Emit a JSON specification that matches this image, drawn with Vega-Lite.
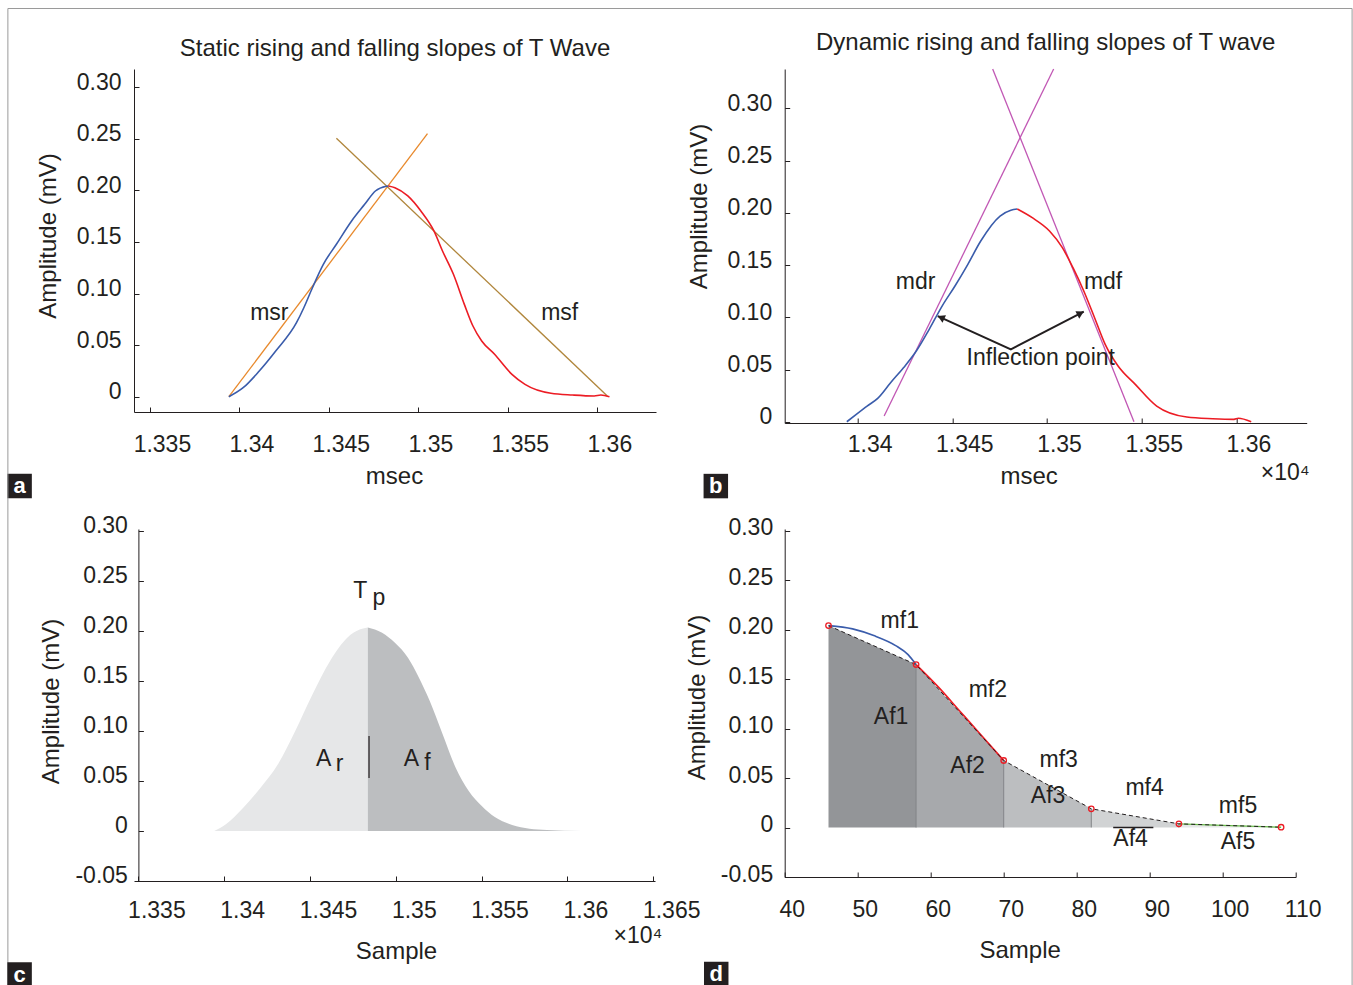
{
  "$schema": "https://vega.github.io/schema/vega-lite/v6.json",
  "background": "white",
  "padding": {"left": 7, "top": 7, "right": 1, "bottom": 0},
  "config": {
    "font": "Liberation Sans",
    "view": {"stroke": null},
    "axis": {
      "grid": false, "domainColor": "#231f20", "tickColor": "#231f20", "labelColor": "#231f20", "titleColor": "#231f20",
      "labelFont": "Liberation Sans", "titleFont": "Liberation Sans", "labelFontSize": 23, "titleFontSize": 24, "titleFontWeight": "normal",
      "tickSize": -5, "domainWidth": 1, "tickWidth": 1, "labelFlush": false, "labelOverlap": false, "labelBound": false
    },
    "title": {"fontSize": 24, "fontWeight": "normal", "color": "#231f20", "frame": "group", "anchor": "middle", "font": "Liberation Sans"},
    "text": {"fontSize": 23, "color": "#231f20", "align": "center", "baseline": "middle"}
  },
  "resolve": {"scale": {"color": "independent"}},
  "datasets": {
    "a_rise": [{"x":1.33941,"y":0},{"x":1.34021,"y":0.0087},{"x":1.34111,"y":0.0249},{"x":1.34203,"y":0.0443},{"x":1.34319,"y":0.0717},{"x":1.34360,"y":0.0862},{"x":1.34408,"y":0.1056},{"x":1.34469,"y":0.1283},{"x":1.34542,"y":0.1477},{"x":1.34627,"y":0.1703},{"x":1.34700,"y":0.1864},{"x":1.34760,"y":0.1993},{"x":1.34821,"y":0.2039},{"x":1.34833,"y":0.2042}],
    "a_fall": [{"x":1.34833,"y":0.2042},{"x":1.34869,"y":0.2025},{"x":1.34941,"y":0.1945},{"x":1.35014,"y":0.1799},{"x":1.35087,"y":0.1606},{"x":1.35135,"y":0.1412},{"x":1.35196,"y":0.1186},{"x":1.35257,"y":0.0895},{"x":1.35305,"y":0.0685},{"x":1.35354,"y":0.0540},{"x":1.35426,"y":0.0411},{"x":1.35523,"y":0.0217},{"x":1.35596,"y":0.0120},{"x":1.35741,"y":0.0033},{"x":1.35862,"y":0.0016},{"x":1.35983,"y":0.0007},{"x":1.36020,"y":0.0016},{"x":1.36068,"y":0}],
    "a_tan_r": [{"x":1.33941,"y":0},{"x":1.35051,"y":0.2549}],
    "a_tan_f": [{"x":1.34542,"y":0.2504},{"x":1.36056,"y":0.0007}],
    "a_text": [{"x":1.34167,"y":0.0808,"label":"msr"},{"x":1.35790,"y":0.0808,"label":"msf"}],
    "a_box": [{"x":1.327717,"y":-0.0865,"label":"a"}],
    "b_rise": [{"x":1.33943,"y":0},{"x":1.33993,"y":0.0071},{"x":1.34050,"y":0.0150},{"x":1.34106,"y":0.0224},{"x":1.34174,"y":0.0374},{"x":1.34242,"y":0.0517},{"x":1.34310,"y":0.0677},{"x":1.34378,"y":0.0885},{"x":1.34446,"y":0.1108},{"x":1.34514,"y":0.1300},{"x":1.34582,"y":0.1508},{"x":1.34650,"y":0.1731},{"x":1.34752,"y":0.1970},{"x":1.34809,"y":0.2025},{"x":1.34843,"y":0.2037}],
    "b_fall": [{"x":1.34843,"y":0.2037},{"x":1.34922,"y":0.1954},{"x":1.35013,"y":0.1827},{"x":1.35081,"y":0.1667},{"x":1.35137,"y":0.1475},{"x":1.35194,"y":0.1252},{"x":1.35251,"y":0.0996},{"x":1.35307,"y":0.0741},{"x":1.35375,"y":0.0534},{"x":1.35466,"y":0.0358},{"x":1.35579,"y":0.0150},{"x":1.35738,"y":0.0045},{"x":1.35874,"y":0.0029},{"x":1.35987,"y":0.0023},{"x":1.36010,"y":0.0033},{"x":1.36078,"y":0}],
    "b_tan_r": [{"x":1.34140,"y":0.0055},{"x":1.35035,"y":0.3378}],
    "b_tan_f": [{"x":1.34713,"y":0.3378},{"x":1.35459,"y":0}],
    "b_arrow": [{"x":1.34423,"y":0.1012},{"x":1.34809,"y":0.0693},{"x":1.35194,"y":0.1054}],
    "b_head_l": [{"x":1.34440,"y":0.0998}],
    "b_head_r": [{"x":1.35177,"y":0.1039}],
    "b_text": [{"x":1.34306,"y":0.1338,"label":"mdr"},{"x":1.35296,"y":0.1338,"label":"mdf"},{"x":1.34967,"y":0.0607,"label":"Inflection point"}],
    "b_exp": [{"x":1.36258,"y":-0.0489,"label":"×10⁴"}],
    "b_box": [{"x":1.332513,"y":-0.0616,"label":"b"}],
    "c_area": [
      {"x":1.33942,"y":0,"part":"rise"},{"x":1.34010,"y":0.0067,"part":"rise"},{"x":1.34111,"y":0.0233,"part":"rise"},{"x":1.34212,"y":0.0433,"part":"rise"},{"x":1.34313,"y":0.0667,"part":"rise"},{"x":1.34414,"y":0.100,"part":"rise"},{"x":1.34515,"y":0.1367,"part":"rise"},{"x":1.34617,"y":0.170,"part":"rise"},{"x":1.34717,"y":0.1933,"part":"rise"},{"x":1.34793,"y":0.2017,"part":"rise"},{"x":1.34837,"y":0.2035,"part":"rise"},
      {"x":1.34837,"y":0.2035,"part":"fall"},{"x":1.34920,"y":0.1983,"part":"fall"},{"x":1.34995,"y":0.1883,"part":"fall"},{"x":1.35071,"y":0.1733,"part":"fall"},{"x":1.35135,"y":0.1533,"part":"fall"},{"x":1.35198,"y":0.130,"part":"fall"},{"x":1.35273,"y":0.0967,"part":"fall"},{"x":1.35349,"y":0.0633,"part":"fall"},{"x":1.35425,"y":0.040,"part":"fall"},{"x":1.35501,"y":0.025,"part":"fall"},{"x":1.35577,"y":0.014,"part":"fall"},{"x":1.35678,"y":0.006,"part":"fall"},{"x":1.35779,"y":0.0023,"part":"fall"},{"x":1.35880,"y":0.001,"part":"fall"},{"x":1.36082,"y":0,"part":"fall"}
    ],
    "c_mark": [{"x":1.34844,"y":0.053,"y2":0.095}],
    "c_text": [{"x":1.34793,"y":0.240,"label":"T"},{"x":1.34902,"y":0.2333,"label":"p"},{"x":1.34579,"y":0.0717,"label":"A"},{"x":1.34672,"y":0.0667,"label":"r"},{"x":1.35091,"y":0.0717,"label":"A"},{"x":1.35185,"y":0.0683,"label":"f"}],
    "c_exp": [{"x":1.36411,"y":-0.105,"label":"×10⁴"}],
    "c_box": [{"x":1.328077,"y":-0.1435,"label":"c"}],
    "c_frame": [{"x":1.327395,"x2":1.405728,"y":0.8225,"y2":-0.162}],
    "d_area": [
      {"x":46,"y":0.204,"seg":"1"},{"x":58,"y":0.1646,"seg":"1"},
      {"x":58,"y":0.1646,"seg":"2"},{"x":70,"y":0.0677,"seg":"2"},
      {"x":70,"y":0.0677,"seg":"3"},{"x":82,"y":0.0189,"seg":"3"},
      {"x":82,"y":0.0189,"seg":"4"},{"x":94,"y":0.0037,"seg":"4"},
      {"x":94,"y":0.0037,"seg":"5"},{"x":108,"y":0.0003,"seg":"5"}
    ],
    "d_pts": [{"x":46,"y":0.204},{"x":58,"y":0.1646},{"x":70,"y":0.0677},{"x":82,"y":0.0189},{"x":94,"y":0.0037},{"x":108,"y":0.0003}],
    "d_sep": [{"x":58,"y":0.1646},{"x":70,"y":0.0677},{"x":82,"y":0.0189},{"x":94,"y":0.0037}],
    "d_blue": [{"x":46.05,"y":0.204},{"x":49.3,"y":0.2007},{"x":52.2,"y":0.1939},{"x":55.2,"y":0.1838},{"x":56.9,"y":0.1747},{"x":58.0,"y":0.1646}],
    "d_red": [{"x":58,"y":0.1646},{"x":61.06,"y":0.1418},{"x":64,"y":0.1175},{"x":66.9,"y":0.0935},{"x":70,"y":0.0677}],
    "d_green": [{"x":94,"y":0.0037},{"x":100,"y":0.0022},{"x":108,"y":0.0003}],
    "d_black": [{"x":85,"x2":90.5,"y":0}],
    "d_text": [{"x":55.76,"y":0.2091,"label":"mf1"},{"x":67.83,"y":0.1394,"label":"mf2"},{"x":77.54,"y":0.0684,"label":"mf3"},{"x":89.3,"y":0.0401,"label":"mf4"},{"x":102.1,"y":0.0222,"label":"mf5"},{"x":54.58,"y":0.1114,"label":"Af1"},{"x":65.06,"y":0.0626,"label":"Af2"},{"x":76.08,"y":0.0323,"label":"Af3"},{"x":87.38,"y":-0.0114,"label":"Af4"},{"x":102.1,"y":-0.0148,"label":"Af5"}],
    "d_box": [{"x":30.62,"y":-0.148,"label":"d"}]
  },
  "columns": 2,
  "bounds": "flush",
  "spacing": {"row": 106, "column": 128.7},
  "concat": [
    {
      "width": 522, "height": 343,
      "title": {"text": "Static rising and falling slopes of T Wave", "offset": 8},
      "encoding": {
        "x": {"field": "x", "type": "quantitative", "scale": {"domain": [1.33411, 1.36328], "nice": false, "zero": false},
              "axis": {"title": "msec", "values": [1.335, 1.34, 1.345, 1.35, 1.355, 1.36], "format": "~g", "labelOffset": 12, "labelBaseline": "middle", "labelPadding": 37, "titleX": 260, "titleY": 64, "titleBaseline": "middle"}},
        "y": {"field": "y", "type": "quantitative", "stack": null, "scale": {"domain": [-0.0148, 0.3175], "nice": false, "zero": false},
              "axis": {"title": "Amplitude (mV)", "values": [0, 0.05, 0.1, 0.15, 0.2, 0.25, 0.3], "labelExpr": "datum.value == 0 ? '0' : (datum.value < 0 ? '-' + format(-datum.value, '.2f') : format(datum.value, '.2f'))", "labelPadding": 18, "labelOffset": -5, "titleX": -86, "titleY": 166.5, "titleBaseline": "middle"}}
      },
      "layer": [
        {"data": {"name": "a_tan_r"}, "mark": {"type": "line", "color": "#e8892c", "strokeWidth": 1.3}},
        {"data": {"name": "a_tan_f"}, "mark": {"type": "line", "color": "#b0863c", "strokeWidth": 1.3}},
        {"data": {"name": "a_rise"}, "mark": {"type": "line", "color": "#3a5cab", "strokeWidth": 1.6, "interpolate": "monotone"}},
        {"data": {"name": "a_fall"}, "mark": {"type": "line", "color": "#ec1c24", "strokeWidth": 1.6, "interpolate": "monotone"}},
        {"data": {"name": "a_text"}, "mark": {"type": "text"}, "encoding": {"text": {"field": "label"}}},
        {"data": {"name": "a_box"}, "mark": {"type": "point", "shape": "square", "filled": true, "size": 600, "color": "#231f20", "opacity": 1}},
        {"data": {"name": "a_box"}, "mark": {"type": "text", "color": "#ffffff", "fontWeight": "bold", "fontSize": 22}, "encoding": {"text": {"field": "label"}}}
      ]
    },
    {
      "width": 522, "height": 354,
      "title": {"text": "Dynamic rising and falling slopes of T wave", "offset": 11},
      "encoding": {
        "x": {"field": "x", "type": "quantitative", "scale": {"domain": [1.33615, 1.36371], "nice": false, "zero": false},
              "axis": {"title": "msec", "values": [1.34, 1.345, 1.35, 1.355, 1.36], "format": "~g", "labelOffset": 12, "labelBaseline": "middle", "labelPadding": 26, "titleX": 244, "titleY": 53, "titleBaseline": "middle"}},
        "y": {"field": "y", "type": "quantitative", "stack": null, "scale": {"domain": [-0.0012, 0.3378], "nice": false, "zero": false},
              "axis": {"title": "Amplitude (mV)", "values": [0, 0.05, 0.1, 0.15, 0.2, 0.25, 0.3], "labelExpr": "datum.value == 0 ? '0' : (datum.value < 0 ? '-' + format(-datum.value, '.2f') : format(datum.value, '.2f'))", "labelPadding": 18, "labelOffset": -5, "titleX": -85, "titleY": 137, "titleBaseline": "middle"}}
      },
      "layer": [
        {"data": {"name": "b_tan_r"}, "mark": {"type": "line", "color": "#c157b4", "strokeWidth": 1.3}},
        {"data": {"name": "b_tan_f"}, "mark": {"type": "line", "color": "#c157b4", "strokeWidth": 1.3}},
        {"data": {"name": "b_rise"}, "mark": {"type": "line", "color": "#3a5cab", "strokeWidth": 1.6, "interpolate": "monotone"}},
        {"data": {"name": "b_fall"}, "mark": {"type": "line", "color": "#ec1c24", "strokeWidth": 1.6, "interpolate": "monotone"}},
        {"data": {"name": "b_arrow"}, "mark": {"type": "line", "color": "#231f20", "strokeWidth": 2}},
        {"data": {"name": "b_head_l"}, "mark": {"type": "point", "shape": "triangle-up", "filled": true, "size": 70, "angle": 294.6, "color": "#231f20", "opacity": 1}},
        {"data": {"name": "b_head_r"}, "mark": {"type": "point", "shape": "triangle-up", "filled": true, "size": 70, "angle": 62.7, "color": "#231f20", "opacity": 1}},
        {"data": {"name": "b_text"}, "mark": {"type": "text"}, "encoding": {"text": {"field": "label"}}},
        {"data": {"name": "b_exp"}, "mark": {"type": "text"}, "encoding": {"text": {"field": "label"}}},
        {"data": {"name": "b_box"}, "mark": {"type": "point", "shape": "square", "filled": true, "size": 600, "color": "#231f20", "opacity": 1}},
        {"data": {"name": "b_box"}, "mark": {"type": "text", "color": "#ffffff", "fontWeight": "bold", "fontSize": 22}, "encoding": {"text": {"field": "label"}}}
      ]
    },
    {
      "width": 521, "height": 352,
      "encoding": {
        "x": {"field": "x", "type": "quantitative", "scale": {"domain": [1.334744, 1.365105], "nice": false, "zero": false},
              "axis": {"title": "Sample", "values": [1.335, 1.34, 1.345, 1.35, 1.355, 1.36, 1.365], "format": "~g", "labelOffset": 18, "labelBaseline": "middle", "labelPadding": 34, "titleX": 262, "titleY": 70, "titleBaseline": "middle"}},
        "y": {"field": "y", "type": "quantitative", "stack": null, "scale": {"domain": [-0.05, 0.302], "nice": false, "zero": false},
              "axis": {"title": "Amplitude (mV)", "offset": -4.4, "values": [-0.05, 0, 0.05, 0.1, 0.15, 0.2, 0.25, 0.3], "labelExpr": "datum.value == 0 ? '0' : (datum.value < 0 ? '-' + format(-datum.value, '.2f') : format(datum.value, '.2f'))", "labelPadding": 16, "labelOffset": -6, "titleX": -87, "titleY": 172, "titleBaseline": "middle"}}
      },
      "layer": [
        {"data": {"name": "c_frame"}, "mark": {"type": "rect", "filled": false, "stroke": "#9a9a9a", "strokeWidth": 1}, "encoding": {"x2": {"field": "x2"}, "y2": {"field": "y2"}}},
        {"data": {"name": "c_area"}, "mark": {"type": "area", "opacity": 1, "interpolate": "monotone"},
         "encoding": {"color": {"field": "part", "type": "nominal", "scale": {"domain": ["rise", "fall"], "range": ["#e6e7e8", "#bcbec0"]}, "legend": null}}},
        {"data": {"name": "c_mark"}, "mark": {"type": "rule", "color": "#231f20", "strokeWidth": 1.2}, "encoding": {"y2": {"field": "y2"}}},
        {"data": {"name": "c_text"}, "mark": {"type": "text"}, "encoding": {"text": {"field": "label"}}},
        {"data": {"name": "c_exp"}, "mark": {"type": "text"}, "encoding": {"text": {"field": "label"}}},
        {"data": {"name": "c_box"}, "mark": {"type": "point", "shape": "square", "filled": true, "size": 600, "color": "#231f20", "opacity": 1}},
        {"data": {"name": "c_box"}, "mark": {"type": "text", "color": "#ffffff", "fontWeight": "bold", "fontSize": 22}, "encoding": {"text": {"field": "label"}}}
      ]
    },
    {
      "width": 511, "height": 348,
      "encoding": {
        "x": {"field": "x", "type": "quantitative", "scale": {"domain": [40, 110], "nice": false, "zero": false},
              "axis": {"title": "Sample", "values": [40, 50, 60, 70, 80, 90, 100, 110], "labelOffset": 7, "labelBaseline": "middle", "labelPadding": 37, "titleX": 235, "titleY": 73, "titleBaseline": "middle"}},
        "y": {"field": "y", "type": "quantitative", "stack": null, "scale": {"domain": [-0.05, 0.3016], "nice": false, "zero": false},
              "axis": {"title": "Amplitude (mV)", "values": [-0.05, 0, 0.05, 0.1, 0.15, 0.2, 0.25, 0.3], "labelExpr": "datum.value == 0 ? '0' : (datum.value < 0 ? '-' + format(-datum.value, '.2f') : format(datum.value, '.2f'))", "labelPadding": 17, "labelOffset": -3, "titleX": -87, "titleY": 168, "titleBaseline": "middle"}}
      },
      "layer": [
        {"data": {"name": "d_area"}, "mark": {"type": "area", "opacity": 1},
         "encoding": {"color": {"field": "seg", "type": "nominal", "scale": {"domain": ["1", "2", "3", "4", "5"], "range": ["#939598", "#a7a9ac", "#bcbec0", "#d1d3d4", "#e6e7e8"]}, "legend": null}}},
        {"data": {"name": "d_sep"}, "mark": {"type": "rule", "color": "#808285", "strokeWidth": 1}, "encoding": {"y2": {"datum": 0}}},
        {"data": {"name": "d_blue"}, "mark": {"type": "line", "color": "#3a5cab", "strokeWidth": 1.6, "interpolate": "monotone"}},
        {"data": {"name": "d_red"}, "mark": {"type": "line", "color": "#ec1c24", "strokeWidth": 1.6, "interpolate": "monotone"}},
        {"data": {"name": "d_green"}, "mark": {"type": "line", "color": "#6abf4b", "strokeWidth": 1.4}},
        {"data": {"name": "d_pts"}, "mark": {"type": "line", "color": "#231f20", "strokeWidth": 1, "strokeDash": [4, 3]}},
        {"data": {"name": "d_pts"}, "mark": {"type": "point", "shape": "circle", "filled": false, "size": 30, "color": "#ec1c24", "strokeWidth": 1.3, "opacity": 1}},
        {"data": {"name": "d_black"}, "mark": {"type": "rule", "color": "#231f20", "strokeWidth": 1.3}, "encoding": {"x2": {"field": "x2"}}},
        {"data": {"name": "d_text"}, "mark": {"type": "text"}, "encoding": {"text": {"field": "label"}}},
        {"data": {"name": "d_box"}, "mark": {"type": "point", "shape": "square", "filled": true, "size": 600, "color": "#231f20", "opacity": 1}},
        {"data": {"name": "d_box"}, "mark": {"type": "text", "color": "#ffffff", "fontWeight": "bold", "fontSize": 22}, "encoding": {"text": {"field": "label"}}}
      ]
    }
  ]
}
